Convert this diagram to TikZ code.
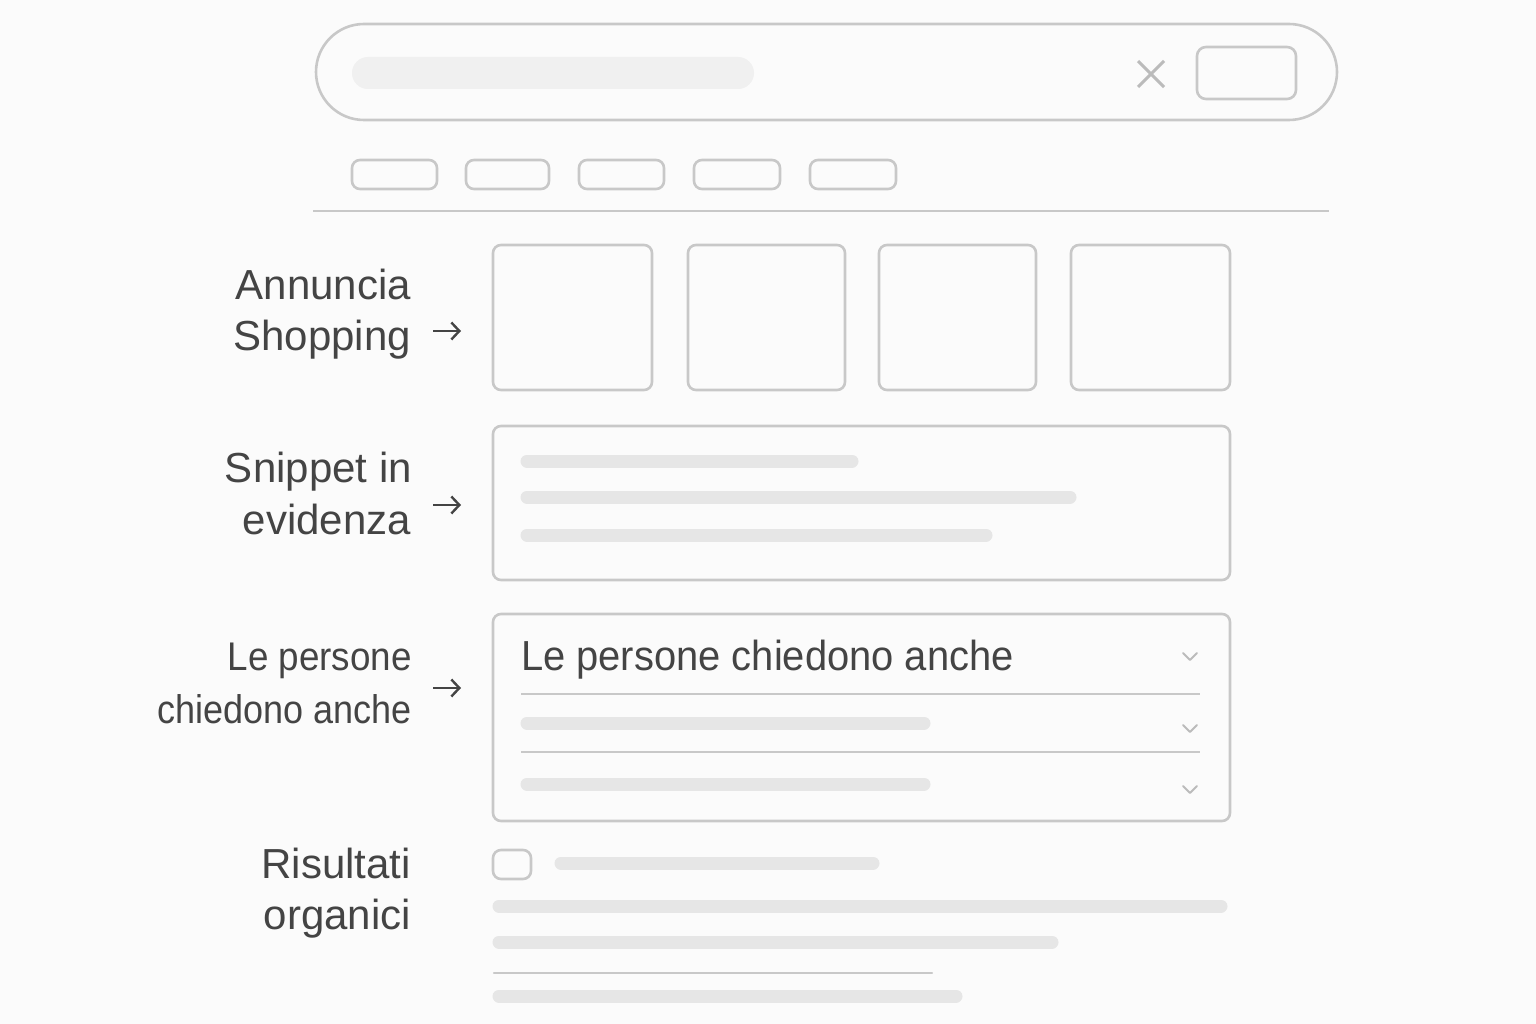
\documentclass[tikz,border=0pt]{standalone}
\usepackage{fontspec}
\setmainfont{Liberation Sans}
\usetikzlibrary{arrows.meta}
\definecolor{bgc}{HTML}{FBFBFB}
\definecolor{strk}{HTML}{C8C8C8}
\definecolor{barc}{HTML}{E6E6E6}
\definecolor{srch}{HTML}{F0F0F0}
\definecolor{txt}{HTML}{444444}
\definecolor{chev}{HTML}{BBBBBB}
\tikzset{
  outl/.style={draw=strk, line width=2.6pt, rounded corners=#1},
  outl/.default=8pt,
  bar/.style={line width=13pt, draw=barc, line cap=round},
  lbl/.style={anchor=base east, text=txt, font=\fontsize{42}{50}\selectfont, inner sep=0pt},
  pointer/.style={draw=txt, line width=2.4pt, -{Straight Barb[length=8pt,width=17pt,line width=2.4pt]}},
  chevron/.style={draw=chev, line width=2pt, line cap=round, line join=round},
}
\begin{document}
\begin{tikzpicture}[x=1pt,y=-1pt]
\useasboundingbox[fill=bgc] (0,0) rectangle (1536,1024);
% search bar
\draw[outl=48pt] (316,24) rectangle (1337,120);
\fill[srch, rounded corners=16pt] (352,57) rectangle (754,89);
\draw[draw=chev, line width=3pt] (1138,61) -- (1164,87) (1164,61) -- (1138,87);
\draw[outl=9pt] (1197,47) rectangle (1296,99);
% tabs
\foreach \a/\b in {352/437, 466/549, 579/664, 694/780, 810/896}
  \draw[outl=8pt] (\a,160) rectangle (\b,189);
\draw[draw=strk, line width=2.4pt] (313,211) -- (1329,211);
% shopping
\foreach \a/\b in {493/652, 688/845, 879/1036, 1071/1230}
  \draw[outl=8pt] (\a,245) rectangle (\b,390);
\node[lbl] (shopA) at (411,299) {Annuncia};
\node[lbl] (shopB) at (411,350) {Shopping};
\coordinate (sa1) at (433,331); \coordinate (sa2) at (461,331);
\draw[pointer] (sa1) -- (sa2);
% snippet
\draw[outl=8pt] (493,426) rectangle (1230,580);
\draw[bar] (527,461) -- (852,461);
\draw[bar] (527,497) -- (1070,497);
\draw[bar] (527,535) -- (986,535);
\node[lbl] (snipA) at (412,482) {Snippet in};
\node[lbl] (snipB) at (411,534) {evidenza};
\coordinate (sn1) at (433,505); \coordinate (sn2) at (461,505);
\draw[pointer] (sn1) -- (sn2);
% people also ask
\draw[outl=8pt] (493,614) rectangle (1230,821);
\node[anchor=base west, text=txt, font=\fontsize{42}{50}\selectfont, inner sep=0pt] (paat) at (521,670) {\scalebox{0.95}[1]{Le persone chiedono anche}};
\draw[draw=strk, line width=2.6pt] (521,694) -- (1200,694);
\draw[draw=strk, line width=2.6pt] (521,752) -- (1200,752);
\draw[bar] (527,723) -- (924,723);
\draw[bar] (527,784) -- (924,784);
\foreach \yy in {656,728,789}
  \draw[chevron] (1183,\yy-3) -- (1190,\yy+4) -- (1197,\yy-3);
\node[lbl, font=\fontsize{40}{48}\selectfont] (paaA) at (412,670) {\scalebox{0.92}[1]{Le persone}};
\node[lbl, font=\fontsize{40}{48}\selectfont] (paaB) at (412,723) {\scalebox{0.9}[1]{chiedono anche}};
\coordinate (pa1) at (433,688); \coordinate (pa2) at (461,688);
\draw[pointer] (pa1) -- (pa2);
% organic
\draw[outl=8pt] (493,850) rectangle (531,879);
\draw[bar] (561,863) -- (873,863);
\draw[bar] (499,906) -- (1221,906);
\draw[bar] (499,942) -- (1052,942);
\draw[draw=strk, line width=2.4pt, line cap=round] (494,973) -- (932,973);
\draw[bar] (499,996) -- (956,996);
\node[lbl] (orgA) at (411,878) {Risultati};
\node[lbl] (orgB) at (411,929) {organici};
\end{tikzpicture}
\end{document}
